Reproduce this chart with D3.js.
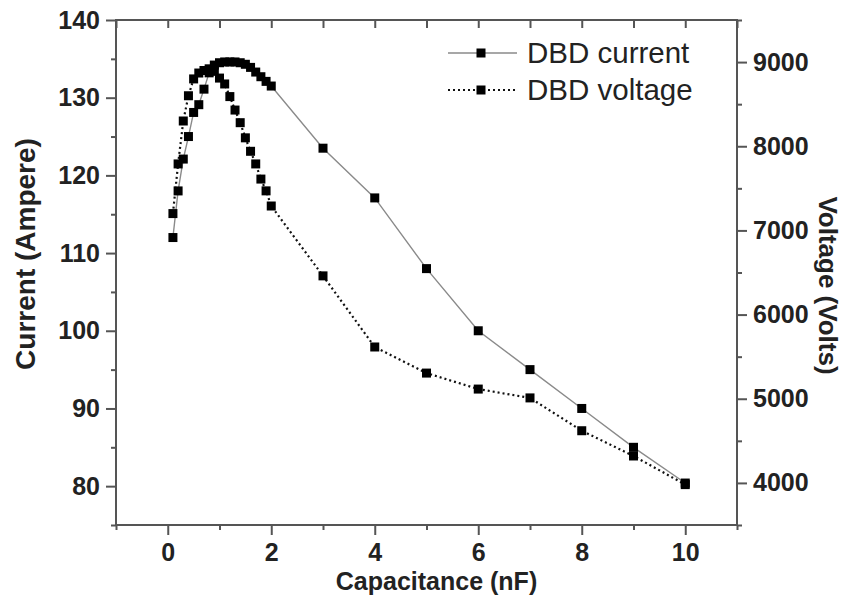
<!DOCTYPE html>
<html>
<head>
<meta charset="utf-8">
<script src="https://cdn.jsdelivr.net/npm/d3@7"></script>
<style>
  html, body { margin: 0; padding: 0; background: #fff; }
  svg { display: block; font-family: "Liberation Sans", Arial, Helvetica, sans-serif; }
</style>
</head>
<body>
<svg id="chart" width="850" height="616"></svg>
<script>
// Capacitance sweep (nF)
const capacitance = [0.1, 0.2, 0.3, 0.4, 0.5, 0.6, 0.7, 0.8, 0.9, 1.0,
                     1.1, 1.2, 1.3, 1.4, 1.5, 1.6, 1.7, 1.8, 1.9, 2.0,
                     3, 4, 5, 6, 7, 8, 9, 10];
// DBD current (A), left axis
const currentA = [112.0, 118.0, 122.1, 125.0, 128.1, 129.1, 131.1, 133.2, 134.2, 134.5,
                  134.6, 134.6, 134.6, 134.5, 134.3, 133.9, 133.3, 132.7, 132.1, 131.5,
                  123.5, 117.1, 108.0, 100.0, 95.0, 90.0, 85.0, 80.4];
// DBD voltage (V), right axis
const voltageV = [7200, 7790, 8300, 8600, 8800, 8870, 8900, 8920, 8890, 8810,
                  8740, 8590, 8430, 8280, 8100, 7940, 7790, 7610, 7470, 7290,
                  6460, 5615, 5305, 5115, 5010, 4620, 4320, 3980];

const xTicks = [0, 2, 4, 6, 8, 10];
const xMinorTicks = [-1, 1, 3, 5, 7, 9, 11];
const leftTicks = [80, 90, 100, 110, 120, 130, 140];
const leftMinorTicks = [75, 85, 95, 105, 115, 125, 135];
const rightTicks = [4000, 5000, 6000, 7000, 8000, 9000];
const rightMinorTicks = [3500, 4500, 5500, 6500, 7500, 8500, 9500];

const seriesNames = ["DBD current", "DBD voltage"];

const svg = d3.select("#chart");
const plotL = 116, plotR = 737, plotT = 20, plotB = 525;
const axisColor = "#555";
const textColor = "#222";

const x = d3.scaleLinear().domain([-1, 11]).range([plotL, plotR]);
const yL = d3.scaleLinear().domain([75, 140]).range([plotB, plotT]);
const yR = d3.scaleLinear().domain([3500, 9500]).range([plotB, plotT]);

function styleAxis(g, fontSize) {
  g.select(".domain").remove();
  g.selectAll(".tick line").attr("stroke", axisColor).attr("stroke-width", 2);
  g.selectAll(".tick text")
    .attr("fill", textColor)
    .style("font-size", fontSize + "px")
    .style("font-weight", "bold");
}

// bottom axis: major labelled, minor unlabelled, ticks pointing outward
svg.append("g").attr("transform", `translate(0,${plotB})`)
  .call(d3.axisBottom(x).tickValues(xTicks).tickSize(10).tickPadding(8).tickFormat(d3.format("d")))
  .call(g => styleAxis(g, 25));
svg.append("g").attr("transform", `translate(0,${plotB})`)
  .call(d3.axisBottom(x).tickValues(xMinorTicks).tickSize(5).tickFormat(""))
  .call(g => styleAxis(g, 25));

// top axis: inward ticks, no labels
svg.append("g").attr("transform", `translate(0,${plotT})`)
  .call(d3.axisBottom(x).tickValues(xTicks.concat(xMinorTicks)).tickSize(8).tickFormat(""))
  .call(g => styleAxis(g, 25));

// left axis (current)
svg.append("g").attr("transform", `translate(${plotL},0)`)
  .call(d3.axisLeft(yL).tickValues(leftTicks).tickSize(10).tickPadding(6).tickFormat(d3.format("d")))
  .call(g => styleAxis(g, 25));
svg.append("g").attr("transform", `translate(${plotL},0)`)
  .call(d3.axisLeft(yL).tickValues(leftMinorTicks).tickSize(5).tickFormat(""))
  .call(g => styleAxis(g, 25));

// right axis (voltage)
svg.append("g").attr("transform", `translate(${plotR},0)`)
  .call(d3.axisRight(yR).tickValues(rightTicks).tickSize(10).tickPadding(6).tickFormat(d3.format("d")))
  .call(g => styleAxis(g, 25));
svg.append("g").attr("transform", `translate(${plotR},0)`)
  .call(d3.axisRight(yR).tickValues(rightMinorTicks).tickSize(5).tickFormat(""))
  .call(g => styleAxis(g, 25));

// frame
svg.append("rect")
  .attr("x", plotL).attr("y", plotT)
  .attr("width", plotR - plotL).attr("height", plotB - plotT)
  .attr("fill", "none").attr("stroke", axisColor).attr("stroke-width", 2);

// axis titles
svg.append("text")
  .attr("x", (plotL + plotR) / 2 + 10).attr("y", 590)
  .attr("text-anchor", "middle")
  .attr("fill", textColor)
  .style("font-size", "25px").style("font-weight", "bold")
  .text("Capacitance (nF)");
svg.append("text")
  .attr("transform", `translate(35,254) rotate(-90)`)
  .attr("text-anchor", "middle")
  .attr("fill", textColor)
  .style("font-size", "28px").style("font-weight", "bold")
  .text("Current (Ampere)");
svg.append("text")
  .attr("transform", `translate(819,${(plotT + plotB) / 2 + 13}) rotate(90)`)
  .attr("text-anchor", "middle")
  .attr("fill", textColor)
  .style("font-size", "26px").style("font-weight", "bold")
  .text("Voltage (Volts)");

const currentPts = capacitance.map((c, i) => [c, currentA[i]]);
const voltagePts = capacitance.map((c, i) => [c, voltageV[i]]);

const lineL = d3.line().x(d => x(d[0])).y(d => yL(d[1]));
const lineR = d3.line().x(d => x(d[0])).y(d => yR(d[1]));

const markerSize = 9;

// voltage: dotted line
svg.append("path").datum(voltagePts)
  .attr("d", lineR).attr("fill", "none")
  .attr("stroke", "#111").attr("stroke-width", 2.2)
  .attr("stroke-dasharray", "2,3");
// current: thin grey solid line
svg.append("path").datum(currentPts)
  .attr("d", lineL).attr("fill", "none")
  .attr("stroke", "#8a8a8a").attr("stroke-width", 1.4);

svg.append("g").selectAll("rect").data(voltagePts).join("rect")
  .attr("x", d => x(d[0]) - markerSize / 2)
  .attr("y", d => yR(d[1]) - markerSize / 2)
  .attr("width", markerSize).attr("height", markerSize)
  .attr("fill", "#000");
svg.append("g").selectAll("rect").data(currentPts).join("rect")
  .attr("x", d => x(d[0]) - markerSize / 2)
  .attr("y", d => yL(d[1]) - markerSize / 2)
  .attr("width", markerSize).attr("height", markerSize)
  .attr("fill", "#000");

// legend
const legend = svg.append("g");
const legendRows = [
  { name: seriesNames[0], y: 53, color: "#8a8a8a", width: 1.4, dash: null },
  { name: seriesNames[1], y: 90, color: "#111", width: 2.2, dash: "2,3" }
];
legendRows.forEach(r => {
  legend.append("line")
    .attr("x1", 448).attr("x2", 517).attr("y1", r.y).attr("y2", r.y)
    .attr("stroke", r.color).attr("stroke-width", r.width)
    .attr("stroke-dasharray", r.dash);
  legend.append("rect")
    .attr("x", 481 - markerSize / 2).attr("y", r.y - markerSize / 2)
    .attr("width", markerSize).attr("height", markerSize).attr("fill", "#000");
  legend.append("text")
    .attr("x", 527).attr("y", r.y).attr("dy", "0.35em")
    .attr("fill", textColor)
    .style("font-size", "29.5px")
    .text(r.name);
});
</script>
</body>
</html>
